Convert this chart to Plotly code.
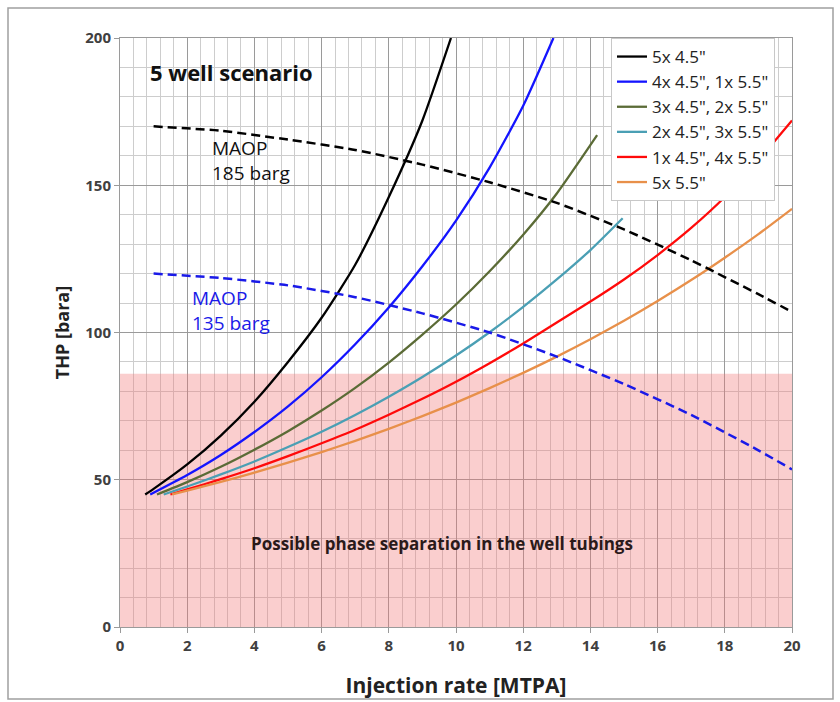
import plotly.graph_objects as go

# Tubing-head pressure vs. injection rate, 5 well scenario
x_5x45 = [0.75, 1, 2, 3, 4, 5, 6, 7, 8, 9, 9.85]
y_5x45 = [45, 46.9, 55.2, 65, 76.5, 90, 105, 123, 146, 172, 200]

x_4x45_1x55 = [0.9, 2, 3, 4, 5, 6, 7, 8, 9, 10, 11, 12, 12.9]
y_4x45_1x55 = [45, 51.6, 58.4, 66.2, 74.9, 84.8, 96, 108.5, 122.5, 138, 156, 177, 200]

x_3x45_2x55 = [1.1, 2, 3, 4, 5, 6, 7, 8, 9, 10, 11, 12, 13, 14.2]
y_3x45_2x55 = [45, 49.2, 54.4, 60.2, 66.5, 73.5, 81.2, 89.8, 99.3, 109.5, 120.8, 133.2, 147.2, 167]

x_2x45_3x55 = [1.3, 2, 3, 4, 5, 6, 7, 8, 9, 10, 11, 12, 13, 14, 14.96]
y_2x45_3x55 = [45, 47.7, 51.8, 56.2, 61.1, 66.3, 72, 78.2, 84.9, 92.2, 100.1, 108.7, 118, 128, 138.8]

x_1x45_4x55 = [1.5, 2, 3, 4, 5, 6, 7, 8, 9, 10, 11, 12, 13, 14, 15, 16, 17, 18, 19, 20]
y_1x45_4x55 = [45, 46.7, 50.2, 53.9, 58, 62.4, 67, 72.1, 77.5, 83.3, 89.6, 96.3, 103.4, 110.5, 118, 126.3, 135.5, 146, 158.5, 172]

x_5x55 = [1.55, 2, 3, 4, 5, 6, 7, 8, 9, 10, 11, 12, 13, 14, 15, 16, 17, 18, 19, 20]
y_5x55 = [45, 46.3, 49.3, 52.4, 55.8, 59.4, 63.2, 67.3, 71.6, 76.2, 81.1, 86.3, 91.8, 97.7, 104, 110.7, 117.8, 125.4, 133.4, 142]

# Maximum allowable operating pressure limits
x_maop = [1, 3, 5, 7, 9, 11, 13, 15, 17, 19, 20]
y_maop_185 = [170, 168.5, 165.5, 162, 157, 151, 144, 135, 124.5, 113, 107]
y_maop_135 = [120, 118.5, 116, 112, 106.5, 100, 91.8, 82.5, 72, 60, 53.5]

# Phase separation zone upper bound [bara]
phase_sep_limit = 86

series = [
    ('5x 4.5"', x_5x45, y_5x45, "#000000"),
    ('4x 4.5", 1x 5.5"', x_4x45_1x55, y_4x45_1x55, "#1414ff"),
    ('3x 4.5", 2x 5.5"', x_3x45_2x55, y_3x45_2x55, "#5b6b36"),
    ('2x 4.5", 3x 5.5"', x_2x45_3x55, y_2x45_3x55, "#4a9fb4"),
    ('1x 4.5", 4x 5.5"', x_1x45_4x55, y_1x45_4x55, "#ff0a0a"),
    ('5x 5.5"', x_5x55, y_5x55, "#e8904a"),
]

FONT = "Open Sans"
fig = go.Figure()

for i, (name, xs, ys, col) in enumerate(series):
    fig.add_trace(go.Scatter(
        x=xs, y=ys, mode="lines", name=name,
        line=dict(color=col, width=2.3, shape="spline", smoothing=0.6),
    ))

fig.add_trace(go.Scatter(
    x=x_maop, y=y_maop_185, mode="lines", showlegend=False,
    line=dict(color="#000000", width=2.5, dash="9px,5px", shape="spline", smoothing=0.6),
))
fig.add_trace(go.Scatter(
    x=x_maop, y=y_maop_135, mode="lines", showlegend=False,
    line=dict(color="#1a1ae8", width=2.5, dash="9px,5px", shape="spline", smoothing=0.6),
))

# shaded region: possible two-phase flow
fig.add_shape(type="rect", xref="x", yref="y", x0=0, x1=20, y0=0, y1=phase_sep_limit,
              fillcolor="rgba(240,120,120,0.36)", line=dict(width=0), layer="between")

# outer frame
fig.add_shape(type="rect", xref="paper", yref="paper",
              x0=(8 - 120) / 672, x1=(833 - 120) / 672,
              y0=(627 - 699) / 589, y1=(627 - 8) / 589,
              line=dict(color="#a0a0a0", width=1.5), fillcolor="rgba(0,0,0,0)", layer="below")

fig.add_annotation(x=0.83, y=188.5, text="<b>5 well scenario</b>", showarrow=False,
                   xanchor="left", yanchor="middle",
                   font=dict(family=FONT, size=22, color="#111"))
fig.add_annotation(x=2.68, y=162.6, text="MAOP", showarrow=False, xanchor="left",
                   yanchor="middle", font=dict(family=FONT, size=19, color="#111"))
fig.add_annotation(x=2.68, y=154.2, text="185 barg", showarrow=False, xanchor="left",
                   yanchor="middle", font=dict(family=FONT, size=19, color="#111"))
fig.add_annotation(x=2.08, y=111.7, text="MAOP", showarrow=False, xanchor="left",
                   yanchor="middle", font=dict(family=FONT, size=19, color="#1a1ae8"))
fig.add_annotation(x=2.08, y=103.1, text="135 barg", showarrow=False, xanchor="left",
                   yanchor="middle", font=dict(family=FONT, size=19, color="#1a1ae8"))
fig.add_annotation(x=9.58, y=28.5, text="<b>Possible phase separation in the well tubings</b>",
                   showarrow=False, xanchor="center", yanchor="middle",
                   font=dict(family=FONT, size=17, color="#2a1a1a"))

fig.update_layout(
    width=840, height=702,
    margin=dict(l=120, r=48, t=38, b=75),
    paper_bgcolor="white", plot_bgcolor="white",
    font=dict(family=FONT, color="#333"),
    legend=dict(
        x=(611 - 120) / 672, y=1, xanchor="left", yanchor="top",
        bgcolor="white", bordercolor="#c8c8c8", borderwidth=1,
        font=dict(family=FONT, size=17, color="#222"),
        entrywidth=172,
    ),
    xaxis=dict(
        range=[0, 20], dtick=2, tick0=0, automargin=False,
        showgrid=True, gridcolor="#9a9a9a", gridwidth=1,
        minor=dict(dtick=0.4, showgrid=True, gridcolor="#cdcdcd", gridwidth=1),
        showline=True, linecolor="#9a9a9a", mirror=True,
        ticks="outside", ticklen=5, tickcolor="#9a9a9a",
        zeroline=False,
        tickfont=dict(family=FONT, size=15, color="#404040", weight="bold"),
        title=dict(text="<b>Injection rate [MTPA]</b>",
                   font=dict(family=FONT, size=21, color="#222"),
                   standoff=24),
    ),
    yaxis=dict(
        range=[0, 200], dtick=50, tick0=0, automargin=False,
        showgrid=True, gridcolor="#9a9a9a", gridwidth=1,
        minor=dict(dtick=10, showgrid=True, gridcolor="#cdcdcd", gridwidth=1),
        showline=True, linecolor="#9a9a9a", mirror=True,
        ticks="outside", ticklen=5, tickcolor="#9a9a9a",
        zeroline=False,
        tickfont=dict(family=FONT, size=15, color="#404040", weight="bold"),
        title=dict(text="<b>THP [bara]</b>", font=dict(family=FONT, size=18, color="#222"),
                   standoff=10),
    ),
)

fig.write_html("out.html")
